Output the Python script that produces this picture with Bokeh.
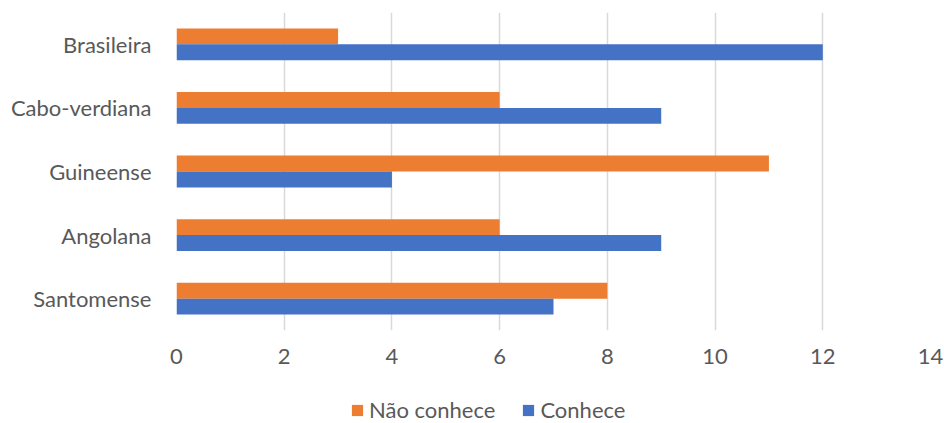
from bokeh.plotting import figure
from bokeh.layouts import column
from bokeh.models import ColumnDataSource, FactorRange, Range1d, Legend, LegendItem, FixedTicker
from bokeh.transform import dodge
from bokeh.embed import file_html
from bokeh.resources import INLINE

categories = ["Santomense", "Angolana", "Guineense", "Cabo-verdiana", "Brasileira"]
conhece = [7, 9, 4, 9, 12]
nao_conhece = [8, 6, 11, 6, 3]
x_ticks = [0, 2, 4, 6, 8, 10, 12, 14]
series_names = ["Não conhece", "Conhece"]
series_colors = ["#ED7D31", "#4472C4"]

FONT = "Lato"
TXT = "#595959"

source = ColumnDataSource(dict(cat=categories, conhece=conhece, nao=nao_conhece))

p = figure(width=944, height=378, y_range=FactorRange(*categories),
           x_range=Range1d(0, 14), output_backend="svg", toolbar_location=None,
           min_border_left=176, min_border_right=14, min_border_top=12, min_border_bottom=48)
p.outline_line_color = None
p.background_fill_color = "white"
p.border_fill_color = "white"

p.hbar(y=dodge("cat", 0.125, range=p.y_range), right="nao", left=0, height=0.25,
       source=source, fill_color=series_colors[0], line_color=None)
p.hbar(y=dodge("cat", -0.125, range=p.y_range), right="conhece", left=0, height=0.25,
       source=source, fill_color=series_colors[1], line_color=None)

p.xaxis.ticker = FixedTicker(ticks=x_ticks)
p.xaxis.axis_line_color = None
p.xaxis.major_tick_line_color = None
p.xaxis.minor_tick_line_color = None
p.xaxis.major_label_text_font = FONT
p.xaxis.major_label_text_font_size = "22px"
p.xaxis.major_label_text_color = TXT
p.xaxis.major_label_standoff = 12

p.yaxis.axis_line_color = None
p.yaxis.major_tick_line_color = None
p.yaxis.minor_tick_line_color = None
p.yaxis.major_label_text_font = FONT
p.yaxis.major_label_text_font_size = "22px"
p.yaxis.major_label_text_color = TXT
p.yaxis.major_label_standoff = 19

p.ygrid.grid_line_color = None
p.xgrid.grid_line_color = "#D9D9D9"
p.xgrid.grid_line_width = 1.5

# legend strip (proxy renderers lie outside the strip's visible range)
lf = figure(width=944, height=45, x_range=Range1d(0, 1), y_range=Range1d(0, 1),
            output_backend="svg", toolbar_location=None,
            min_border_left=0, min_border_right=0, min_border_top=0, min_border_bottom=0)
lf.outline_line_color = None
lf.axis.visible = False
lf.grid.visible = False
proxy = ColumnDataSource(dict(left=[-3], right=[-2], bottom=[-3], top=[-2]))
items = []
for name, col in zip(series_names, series_colors):
    r = lf.quad(left="left", right="right", bottom="bottom", top="top", source=proxy,
                fill_color=col, line_color=None)
    items.append(LegendItem(label=name, renderers=[r]))
leg = Legend(items=items, orientation="horizontal", location=(174, 0),
             label_text_font=FONT, label_text_font_size="22px", label_text_color=TXT,
             glyph_width=14, glyph_height=14, label_standoff=5, spacing=26,
             border_line_color=None, background_fill_alpha=0,
             padding=0, margin=0)
lf.add_layout(leg, "center")

layout = column(p, lf, spacing=0)
open("out.html", "w").write(file_html(layout, INLINE))
